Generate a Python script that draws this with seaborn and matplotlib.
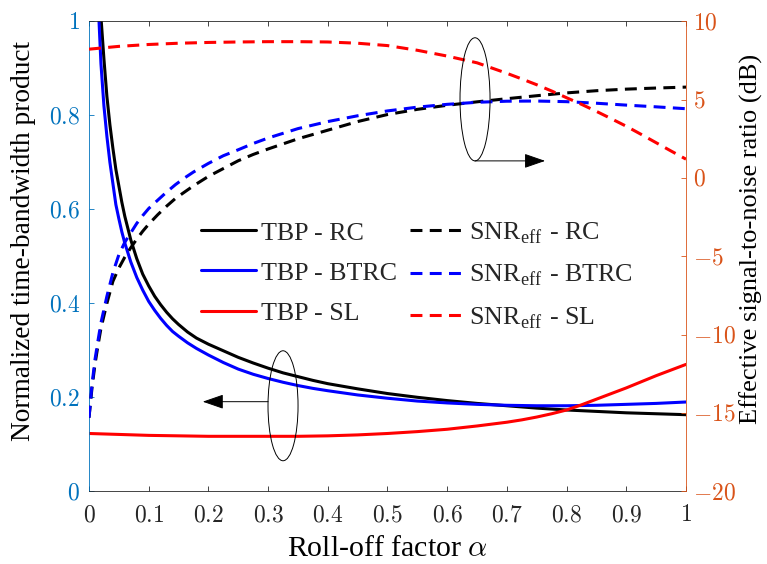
import numpy as np
import pandas as pd
import matplotlib
matplotlib.use("Agg")
import matplotlib.pyplot as plt
from matplotlib.patches import Ellipse
import seaborn as sns

# ---- data -------------------------------------------------------------
# Roll-off factor samples for the time-bandwidth-product curves (RC, BTRC)
alpha_tbp = [0.010, 0.015, 0.020, 0.025, 0.030, 0.035, 0.040, 0.045, 0.050,
             0.055, 0.060, 0.070, 0.080, 0.090, 0.100, 0.110, 0.120, 0.130,
             0.140, 0.150, 0.165, 0.180, 0.200, 0.225, 0.250, 0.275, 0.300,
             0.325, 0.350, 0.375, 0.400, 0.450, 0.500, 0.550, 0.600, 0.650,
             0.700, 0.750, 0.800, 0.850, 0.900, 0.950, 1.000]
tbp_rc = [1.40, 1.17, 1.01, 0.92, 0.84, 0.78, 0.73, 0.685, 0.65,
          0.615, 0.585, 0.535, 0.495, 0.462, 0.437, 0.415, 0.397, 0.381,
          0.367, 0.355, 0.339, 0.326, 0.313, 0.299, 0.285, 0.273, 0.262,
          0.252, 0.244, 0.236, 0.229, 0.218, 0.208, 0.200, 0.193, 0.187,
          0.182, 0.177, 0.173, 0.170, 0.167, 0.165, 0.163]
tbp_btrc = [1.35, 1.05, 0.91, 0.82, 0.755, 0.70, 0.655, 0.61, 0.58,
            0.552, 0.528, 0.488, 0.455, 0.428, 0.404, 0.385, 0.368, 0.353,
            0.340, 0.330, 0.316, 0.304, 0.290, 0.274, 0.260, 0.249, 0.240,
            0.232, 0.225, 0.219, 0.214, 0.205, 0.198, 0.192, 0.188, 0.185,
            0.183, 0.182, 0.182, 0.183, 0.185, 0.187, 0.190]

# Roll-off factor samples for the SL pulse
alpha_sl = [0.000, 0.050, 0.100, 0.150, 0.200, 0.250, 0.300, 0.350, 0.400,
            0.450, 0.500, 0.550, 0.600, 0.650, 0.700, 0.725, 0.750, 0.775,
            0.800, 0.825, 0.850, 0.875, 0.900, 0.925, 0.950, 0.975, 1.000]
tbp_sl = [0.123, 0.121, 0.119, 0.118, 0.117, 0.117, 0.117, 0.117, 0.118,
          0.120, 0.123, 0.127, 0.132, 0.139, 0.147, 0.152, 0.158, 0.165,
          0.173, 0.184, 0.196, 0.208, 0.220, 0.233, 0.246, 0.258, 0.270]
snr_sl = [8.22, 8.40, 8.52, 8.60, 8.65, 8.68, 8.70, 8.70, 8.68,
          8.60, 8.45, 8.15, 7.78, 7.35, 6.68, 6.32, 5.95, 5.55,
          5.12, 4.70, 4.25, 3.78, 3.30, 2.78, 2.25, 1.72, 1.20]

# Roll-off factor samples for the effective-SNR curves (RC, BTRC)
alpha_snr = [0.000, 0.005, 0.010, 0.015, 0.020, 0.030, 0.040, 0.050, 0.060,
             0.070, 0.080, 0.090, 0.100, 0.115, 0.130, 0.145, 0.160, 0.175,
             0.200, 0.225, 0.250, 0.275, 0.300, 0.350, 0.400, 0.450, 0.500,
             0.550, 0.600, 0.650, 0.700, 0.750, 0.800, 0.850, 0.900, 0.950,
             1.000]
snr_rc = [-15.3, -13.4, -11.9, -10.7, -9.6, -8.0, -6.6, -5.75, -5.05,
          -4.45, -3.9, -3.4, -2.95, -2.35, -1.8, -1.3, -0.9, -0.5,
          0.1, 0.6, 1.1, 1.5, 1.85, 2.5, 3.05, 3.6, 4.05,
          4.38, 4.64, 4.86, 5.06, 5.25, 5.43, 5.57, 5.67, 5.74,
          5.80]
snr_btrc = [-15.3, -13.2, -11.6, -10.4, -9.25, -7.55, -6.05, -4.9, -4.1,
            -3.5, -2.9, -2.4, -1.95, -1.42, -0.9, -0.42, 0.0, 0.38,
            0.93, 1.42, 1.8, 2.2, 2.55, 3.15, 3.6, 3.97, 4.28,
            4.52, 4.70, 4.83, 4.90, 4.91, 4.87, 4.77, 4.65, 4.54,
            4.42]

x_ticks = [0, 0.1, 0.2, 0.3, 0.4, 0.5, 0.6, 0.7, 0.8, 0.9, 1]
x_ticklabels = ["0", "0.1", "0.2", "0.3", "0.4", "0.5", "0.6", "0.7", "0.8", "0.9", "1"]
left_ticks = [0, 0.2, 0.4, 0.6, 0.8, 1]
left_ticklabels = ["0", "0.2", "0.4", "0.6", "0.8", "1"]
right_ticks = [-20, -15, -10, -5, 0, 5, 10]
right_ticklabels = ["-20", "-15", "-10", "-5", "0", "5", "10"]

# ---- style ------------------------------------------------------------
sns.set_style("white")
plt.rcParams["font.family"] = ["Liberation Serif", "DejaVu Serif"]
plt.rcParams["mathtext.fontset"] = "cm"
FS_TICK = 17
FS_XLABEL = 21.5
FS_YLABEL_L = 19.7
FS_YLABEL_R = 19.0
FS_LEG = 18.7
AX_GRAY = "#262626"
C_LEFT = "#0072BD"
C_RIGHT = "#D95319"
LW = 2.2
DASH = (0, (3.9, 2.4))

fig = plt.figure(figsize=(7.67, 5.64), dpi=100)
fig.patch.set_facecolor("white")
W, H = 767.0, 564.0
ax = fig.add_axes([89 / W, 1 - 491.3 / H, 597 / W, 470 / H])
ax2 = ax.twinx()

df_tbp = pd.DataFrame({"alpha": alpha_tbp, "rc": tbp_rc, "btrc": tbp_btrc})
df_sl = pd.DataFrame({"alpha": alpha_sl, "tbp": tbp_sl, "snr": snr_sl})
df_snr = pd.DataFrame({"alpha": alpha_snr, "rc": snr_rc, "btrc": snr_btrc})

handles = []
sns.lineplot(data=df_tbp, x="alpha", y="rc", ax=ax, color="black", lw=LW)
handles.append((ax.lines[-1], "TBP - RC"))
sns.lineplot(data=df_tbp, x="alpha", y="btrc", ax=ax, color="#0000FF", lw=LW)
handles.append((ax.lines[-1], "TBP - BTRC"))
sns.lineplot(data=df_sl, x="alpha", y="tbp", ax=ax, color="#FF0000", lw=LW)
handles.append((ax.lines[-1], "TBP - SL"))

sns.lineplot(data=df_snr, x="alpha", y="rc", ax=ax2, color="black", lw=LW, linestyle=DASH)
handles.append((ax2.lines[-1], r"SNR$_{\mathregular{eff}}$ - RC"))
sns.lineplot(data=df_snr, x="alpha", y="btrc", ax=ax2, color="#0000FF", lw=LW, linestyle=DASH)
handles.append((ax2.lines[-1], r"SNR$_{\mathregular{eff}}$ - BTRC"))
sns.lineplot(data=df_sl, x="alpha", y="snr", ax=ax2, color="#FF0000", lw=LW, linestyle=DASH)
handles.append((ax2.lines[-1], r"SNR$_{\mathregular{eff}}$ - SL"))

# ---- axes -------------------------------------------------------------
ax.set_xlim(0, 1)
ax.set_ylim(0, 1)
ax2.set_ylim(-20, 10)

ax.set_xticks(x_ticks)
ax.set_xticklabels(["$%s$" % t for t in x_ticklabels], fontsize=FS_TICK)
ax.set_yticks(left_ticks)
ax.set_yticklabels(["$%s$" % t for t in left_ticklabels], fontsize=FS_TICK)
ax2.set_yticks(right_ticks)
ax2.set_yticklabels(["$%s$" % t for t in right_ticklabels], fontsize=FS_TICK)

ax.tick_params(axis="x", direction="in", length=3.8, width=0.6, color=AX_GRAY,
               labelcolor=AX_GRAY, top=True, bottom=True, pad=10)
ax.tick_params(axis="y", direction="in", length=3.8, width=0.6, color=C_LEFT,
               labelcolor=C_LEFT, left=True, right=False, pad=6.5)
ax2.tick_params(axis="y", direction="in", length=3.8, width=0.6, color=C_RIGHT,
                labelcolor=C_RIGHT, right=True, left=False, pad=5)

for s in ("top", "bottom"):
    ax.spines[s].set_color(AX_GRAY)
    ax.spines[s].set_linewidth(0.6)
ax.spines["left"].set_color(C_LEFT)
ax.spines["left"].set_linewidth(0.6)
ax.spines["right"].set_visible(False)
for s in ("top", "bottom", "left"):
    ax2.spines[s].set_visible(False)
ax2.spines["right"].set_color(C_RIGHT)
ax2.spines["right"].set_linewidth(0.6)

ax.set_xlabel(r"Roll-off factor $\alpha$", fontsize=FS_XLABEL, color="black")
ax.xaxis.set_label_coords(0.5, (491.3 - 536) / 470)
ax.set_ylabel("Normalized time-bandwidth product", fontsize=FS_YLABEL_L, color="black")
ax.yaxis.set_label_coords((36 - 89) / 597, (491.3 - 241) / 470)
ax2.set_ylabel("Effective signal-to-noise ratio (dB)", fontsize=FS_YLABEL_R, color="black",
               rotation=90)
ax2.yaxis.set_label_coords((740 - 89) / 597, (491.3 - 239) / 470)

# ---- ellipse markers with direction arrows ------------------------------
ARROW = dict(arrowstyle="-|>,head_length=1.3,head_width=0.45",
             color="black", lw=0.7, shrinkA=0, shrinkB=0)
ax2.add_patch(Ellipse((0.6466, 5.02), 0.0503, 7.86, fill=False, ec="black", lw=0.7, zorder=5))
ax2.annotate("", xy=(0.764, 1.09), xytext=(0.6466, 1.09), arrowprops=ARROW)
ax2.add_patch(Ellipse((0.325, -14.54), 0.0503, 7.02, fill=False, ec="black", lw=0.7, zorder=5))
ax2.annotate("", xy=(0.1905, -14.28), xytext=(0.300, -14.28), arrowprops=ARROW)

# ---- legend -----------------------------------------------------------
leg = ax2.legend([h for h, _ in handles], [l for _, l in handles], ncol=2,
                 frameon=False, fontsize=FS_LEG, loc="upper left",
                 bbox_to_anchor=(201 / W, 1 - 220.5 / H),
                 bbox_transform=fig.transFigure, borderpad=0, borderaxespad=0,
                 handlelength=2.1, handletextpad=0.2, columnspacing=0.5,
                 labelspacing=0.65)

fig.savefig("out.png", dpi=100, facecolor="white")
